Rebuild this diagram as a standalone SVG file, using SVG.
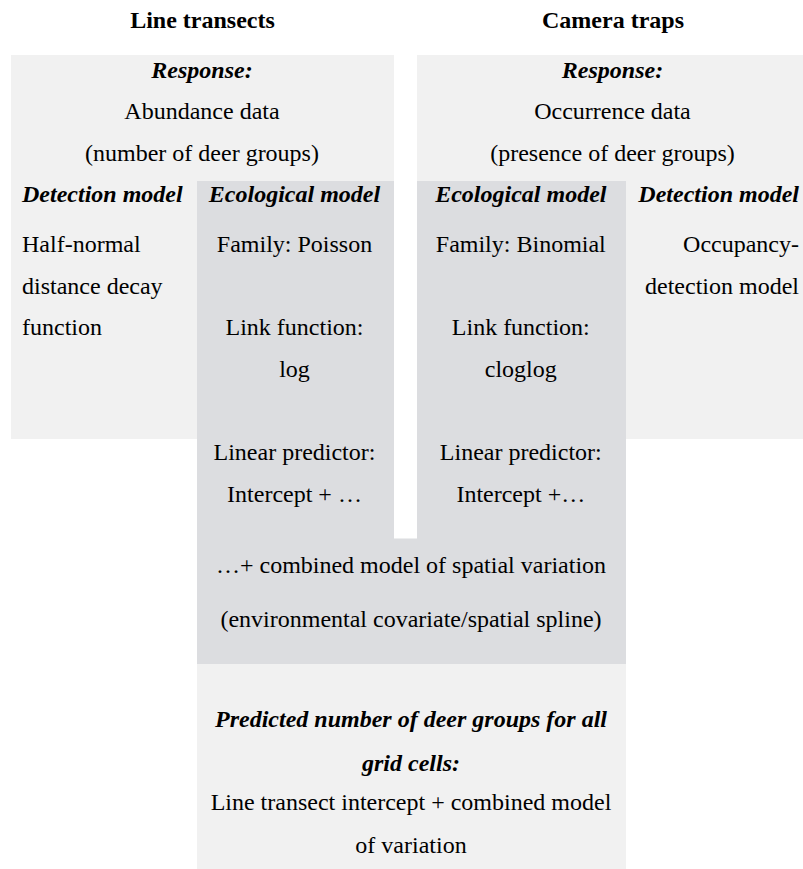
<svg xmlns="http://www.w3.org/2000/svg" width="803" height="869" viewBox="0 0 803 869">
  <style>
    text { font-size: 24px; fill: #000; }
    .c { text-anchor: middle; }
    .e { text-anchor: end; }
    .b { font-weight: bold; }
    .bi { font-weight: bold; font-style: italic; }
    .light { fill: #f1f1f1; }
    .dark { fill: #dcdde0; }
  </style>
  <rect width="803" height="869" fill="#ffffff"/>
  <g font-family="Liberation Serif, Tinos, Times New Roman, DejaVu Serif, serif">

  <g id="header-line-transects">
    <text class="c b" x="202.5" y="28">Line transects</text>
  </g>
  <g id="header-camera-traps">
    <text class="c b" x="613" y="28">Camera traps</text>
  </g>

  <g id="lt-response">
    <rect class="light" x="11" y="55" width="383" height="384"/>
    <text class="c bi" x="202" y="77.5">Response:</text>
    <text class="c" x="202" y="119">Abundance data</text>
    <text class="c" x="202" y="161">(number of deer groups)</text>
  </g>

  <g id="ct-response">
    <rect class="light" x="417" y="55" width="391" height="384"/>
    <text class="c bi" x="612.5" y="77.5">Response:</text>
    <text class="c" x="612.5" y="119">Occurrence data</text>
    <text class="c" x="612.5" y="161">(presence of deer groups)</text>
  </g>

  <g id="lt-detection">
    <text class="bi" x="22" y="202.3">Detection model</text>
    <text x="22" y="252.3">Half-normal</text>
    <text x="22" y="293.7">distance decay</text>
    <text x="22" y="335">function</text>
  </g>

  <g id="combined">
    <rect class="dark" x="197" y="538.5" width="429" height="125.5"/>
    <text class="c" x="411" y="573.3">…+ combined model of spatial variation</text>
    <text class="c" x="411" y="627">(environmental covariate/spatial spline)</text>
  </g>

  <g id="lt-ecological">
    <rect class="dark" x="197" y="181" width="197" height="358"/>
    <text class="c bi" x="294.5" y="202.3">Ecological model</text>
    <text class="c" x="294.5" y="252.3">Family: Poisson</text>
    <text class="c" x="294.5" y="335">Link function:</text>
    <text class="c" x="294.5" y="376.7">log</text>
    <text class="c" x="294.5" y="460">Linear predictor:</text>
    <text class="c" x="294.5" y="501.7">Intercept + …</text>
  </g>

  <g id="ct-ecological">
    <rect class="dark" x="417" y="181" width="209" height="358"/>
    <text class="c bi" x="520.8" y="202.3">Ecological model</text>
    <text class="c" x="520.8" y="252.3">Family: Binomial</text>
    <text class="c" x="520.8" y="335">Link function:</text>
    <text class="c" x="520.8" y="376.7">cloglog</text>
    <text class="c" x="520.8" y="460">Linear predictor:</text>
    <text class="c" x="520.8" y="501.7">Intercept +…</text>
  </g>

  <g id="ct-detection">
    <text class="e bi" x="799" y="202.3">Detection model</text>
    <text class="e" x="799" y="251.5">Occupancy-</text>
    <text class="e" x="799" y="293.5">detection model</text>
  </g>

  <g id="prediction">
    <rect class="light" x="197" y="664" width="429" height="205"/>
    <text class="c bi" x="411" y="727">Predicted number of deer groups for all</text>
    <text class="c bi" x="411" y="770.5">grid cells:</text>
    <text class="c" x="411" y="810">Line transect intercept + combined model</text>
    <text class="c" x="411" y="852.5">of variation</text>
  </g>

  <g id="connectors"/>
  </g>
</svg>
